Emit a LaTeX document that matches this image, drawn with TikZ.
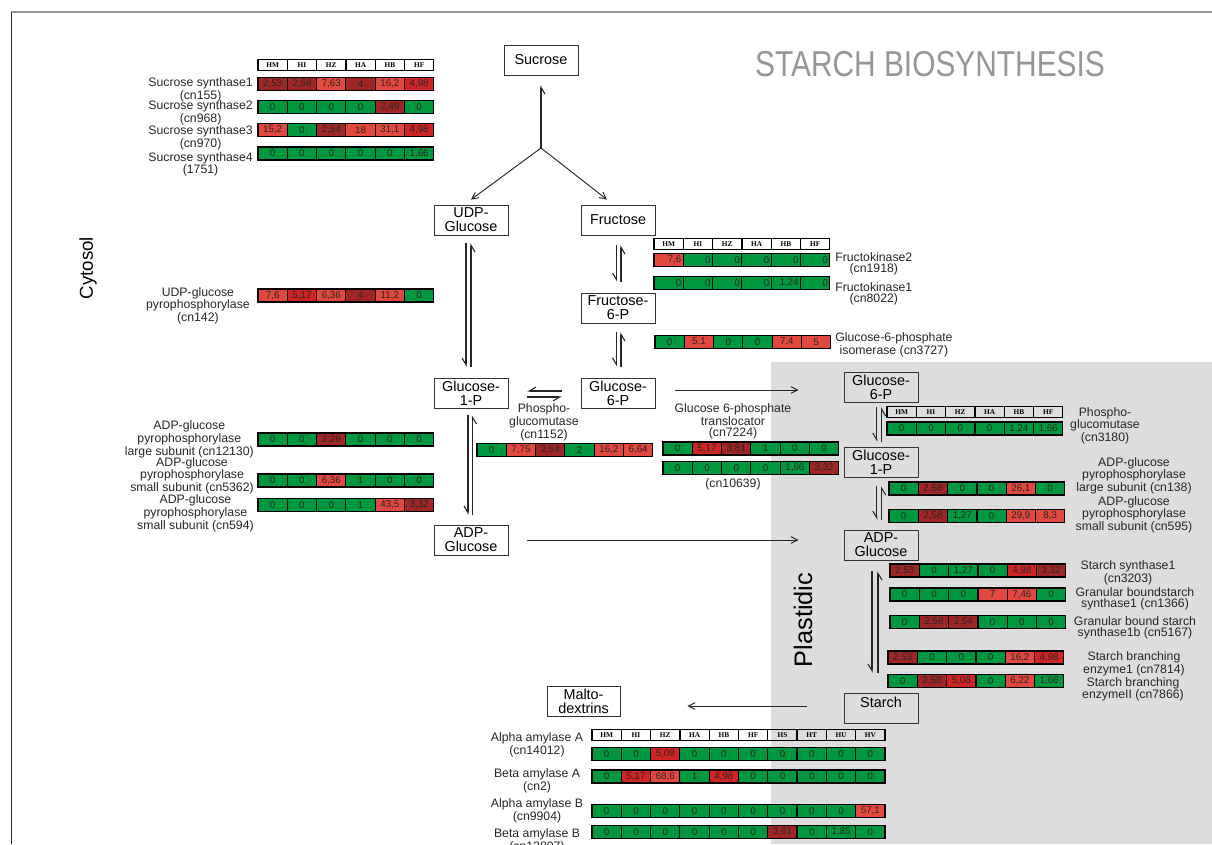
\documentclass[tikz,border=0pt]{standalone}
\usepackage{fontspec}
\setmainfont{Liberation Sans}
\newfontfamily\entetefont{Liberation Serif}
\usetikzlibrary{arrows.meta}

\definecolor{vv}{RGB}{0,152,62}
\definecolor{rc}{RGB}{226,72,62}
\definecolor{rm}{RGB}{208,36,36}
\definecolor{rf}{RGB}{160,38,38}
\definecolor{fond}{RGB}{221,221,221}
\definecolor{gristitre}{RGB}{150,150,150}

\tikzset{
	met/.style={draw=black!80, line width=0.6pt, minimum width=55.5pt, minimum height=22.5pt, inner sep=0pt, align=center, font=\fontsize{10.8}{10.5}\selectfont},
	cellule/.style={draw=black, line width=0.9pt, minimum width=22pt, minimum height=9.75pt, inner sep=0pt, text=black!85, font=\fontsize{7.3}{8}\selectfont},
	entete/.style={cellule, minimum height=8.25pt, text=black, font=\entetefont\bfseries\fontsize{5.5}{6}\selectfont},
	droite/.style={text width=19pt, align=right},
	enz/.style={align=center, inner sep=0pt, text=black!85, font=\fontsize{9.2}{8.2}\selectfont},
	fl/.style={draw=black!85, line width=0.7pt, -{Straight Barb[length=5pt,width=5pt]}},
	demi/.style={draw=black!85, line width=0.8pt, -{Straight Barb[right,length=5pt,width=6pt]}},
}

% une ligne de cellules : nom, x gauche, y centre, {couleur/valeur,...}
\newcommand{\ligne}[5][]{%
	\foreach \c/\v [count=\i] in {#5}
		\node[cellule,fill=\c,#1] (#2-\i) at ({#3+(\i-0.5)*29.3},#4) {\v};
}
% la ligne d'en-tete : nom, x gauche, y centre, {colonnes}
\newcommand{\entete}[4]{%
	\foreach \h [count=\i] in {#4}
		\node[entete] (#1-\i) at ({#2+(\i-0.5)*29.3},#3) {\h};
}
% deux demi-fleches paralleles (reaction reversible) entre deux noeuds
\newcommand{\paire}[6]{%
	\draw[demi, shorten <=#5, shorten >=#6] ([xshift=#3]#1.south) -- ([xshift=#3]#2.north);
	\draw[demi, shorten <=#6, shorten >=#5] ([xshift=#4]#2.north) -- ([xshift=#4]#1.south);
}

\begin{document}
\begin{tikzpicture}[x=0.75pt,y=-0.75pt]
	\useasboundingbox (0,0) rectangle (1212,844);
	% le plaste
	\fill[fond] (771,362) rectangle (1212,844);
	\draw[gristitre, line width=1pt] (11,12) -- (1212,12);
	\draw[black!85, line width=0.75pt] (11.5,11.5) -- (11.5,844);

	\node[text=gristitre, font=\fontsize{27}{27}\selectfont] (titre) at (930,64) {\scalebox{0.83}[1]{STARCH BIOSYNTHESIS}};
	\node[rotate=90, font=\fontsize{14}{14}\selectfont] (cytosol) at (88,268) {Cytosol};
	\node[rotate=90, font=\fontsize{19}{19}\selectfont] (plaste) at (803,620) {Plastidic};

	%metabolites
	\node[met] (sucrose) at (541,60) {Sucrose};
	\node[met] (udpglc) at (471,220) {UDP-\\Glucose};
	\node[met] (fructose) at (618,220) {Fructose};
	\node[met] (f6p) at (618,308) {Fructose-\\6-P};
	\node[met] (g1pc) at (471,393) {Glucose-\\1-P};
	\node[met] (g6pc) at (618,393) {Glucose-\\6-P};
	\node[met] (adpc) at (471,540) {ADP-\\Glucose};
	\node[met] (g6pp) at (881,387) {Glucose-\\6-P};
	\node[met] (g1pp) at (881,462) {Glucose-\\1-P};
	\node[met] (adpp) at (881,545) {ADP-\\Glucose};
	\node[met, text depth=9.2pt] (starch) at (881,708) {Starch};
	\node[met, minimum width=54.75pt] (malto) at (583.5,701) {Malto-\\dextrins};

	%fleches
	\coordinate (fourche) at (541,148);
	\draw[demi, shorten >=7.5pt] (fourche) -- (sucrose);
	\draw[fl] (fourche) -- ([yshift=3.75pt]udpglc.north);
	\draw[fl] (fourche) -- ([xshift=-8.25pt,yshift=3.75pt]fructose.north);
	\paire{udpglc}{g1pc}{-3.75pt}{0pt}{6pt}{8.25pt}
	\paire{fructose}{f6p}{-1.1pt}{2.25pt}{7.5pt}{8.25pt}
	\paire{f6p}{g6pc}{-1.1pt}{2.25pt}{6.75pt}{8.25pt}
	\paire{g1pc}{adpc}{-2.25pt}{1.1pt}{5.25pt}{7.5pt}
	\paire{g6pp}{g1pp}{-3.2pt}{0.5pt}{3.75pt}{3.75pt}
	\paire{g1pp}{adpp}{-3.2pt}{0.5pt}{6.75pt}{7.5pt}
	\paire{adpp}{starch}{-6.75pt}{-2.25pt}{8.25pt}{15pt}
	\draw[demi, shorten <=14.25pt, shorten >=14.25pt] ([yshift=1.5pt]g6pc.west) -- ([yshift=1.5pt]g6pc.west -| g1pc.east);
	\draw[demi, shorten <=14.25pt, shorten >=14.25pt] ([yshift=-3pt]g1pc.east) -- ([yshift=-3pt]g1pc.east -| g6pc.west);
	\draw[fl, shorten <=15pt, shorten >=33.75pt] ([yshift=2.25pt]g6pc.east) -- ([yshift=2.25pt]g6pc.east -| g6pp.west);
	\draw[fl, shorten <=14.25pt, shorten >=33.75pt] (adpc.east) -- (adpc.east -| adpp.west);
	\draw[fl, shorten <=27.75pt, shorten >=50.25pt] ([yshift=1.5pt]starch.west) -- ([yshift=1.5pt]starch.west -| malto.east);

	%tableaux
	\entete{hsuc}{258}{65}{HM,HI,HZ,HA,HB,HF}
	\ligne{ss1}{258}{84}{rf/{2,53},rf/{2,58},rc/{7,63},rf/4,rc/{16,2},rm/{4,98}}
	\ligne{ss2}{258}{107}{vv/0,vv/0,vv/0,vv/0,rf/{2,49},vv/0}
	\ligne{ss3}{258}{130}{rc/{15,2},vv/0,rf/{2,54},rc/18,rc/{31,1},rm/{4,98}}
	\ligne{ss4}{258}{153.5}{vv/0,vv/0,vv/0,vv/0,vv/0,vv/{1,66}}
	\ligne{ugp}{258}{295.5}{rc/{7,6},rm/{5,17},rc/{6,36},rf/4,rc/{11,2},vv/0}
	\ligne{agpl}{258}{439.5}{vv/0,vv/0,rf/{2,29},vv/0,vv/0,vv/0}
	\ligne{agps}{258}{480.5}{vv/0,vv/0,rc/{6,36},vv/1,vv/0,vv/0}
	\ligne{agpsb}{258}{505}{vv/0,vv/0,vv/0,vv/1,rc/{43,5},rf/{3,32}}
	\ligne{pgmc}{477}{450}{vv/0,rc/{7,75},rf/{2,54},vv/2,rc/{16,2},rc/{6,64}}
	\ligne{gpt}{663}{448.5}{vv/0,rm/{5,17},rf/{3,81},vv/1,vv/0,vv/0}
	\ligne{gptb}{663}{468}{vv/0,vv/0,vv/0,vv/0,vv/{1,66},rf/{3,32}}
	\entete{hfk}{654}{244}{HM,HI,HZ,HA,HB,HF}
	\ligne[droite]{fk2}{654}{260}{rc/{7,6},vv/0,vv/0,vv/0,vv/0,vv/0}
	\ligne[droite]{fk1}{654}{283}{vv/0,vv/0,vv/0,vv/0,vv/{1,24},vv/0}
	\ligne{pgi}{655}{342}{vv/0,rc/{5,1},vv/0,vv/0,rc/{7,4},rc/5}
	\entete{hpgm}{887}{412}{HM,HI,HZ,HA,HB,HF}
	\ligne{pgmp}{887}{428.5}{vv/0,vv/0,vv/0,vv/0,vv/{1,24},vv/{1,66}}
	\ligne{agplp}{889}{488.5}{vv/0,rf/{2,58},vv/0,vv/0,rc/{26,1},vv/0}
	\ligne{agpsp}{889}{516}{vv/0,rf/{2,58},vv/{1,27},vv/0,rc/{29,9},rc/{8,3}}
	\ligne{ss}{890}{570.5}{rf/{2,53},vv/0,vv/{1,27},vv/0,rm/{4,98},rf/{3,32}}
	\ligne{gbss}{890}{594.5}{vv/0,vv/0,vv/0,rc/7,rc/{7,46},vv/0}
	\ligne{gbssb}{890}{622}{vv/0,rf/{2,58},rf/{2,54},vv/0,vv/0,vv/0}
	\ligne{sbe}{888}{657.5}{rf/{2,53},vv/0,vv/0,vv/0,rc/{16,2},rm/{4,98}}
	\ligne{sbeb}{888}{681}{vv/0,rf/{2,58},rm/{5,08},vv/0,rc/{6,22},vv/{1,66}}
	\entete{hamy}{592}{735}{HM,HI,HZ,HA,HB,HF,HS,HT,HU,HV}
	\ligne{amya}{592}{754}{vv/0,vv/0,rm/{5,08},vv/0,vv/0,vv/0,vv/0,vv/0,vv/0,vv/0}
	\ligne{bama}{592}{776.5}{vv/0,rm/{5,17},rc/{68,6},vv/1,rm/{4,98},vv/0,vv/0,vv/0,vv/0,vv/0}
	\ligne{amyb}{592}{811}{vv/0,vv/0,vv/0,vv/0,vv/0,vv/0,vv/0,vv/0,vv/0,rc/{57,1}}
	\ligne{bamb}{592}{832}{vv/0,vv/0,vv/0,vv/0,vv/0,vv/0,rf/{3,61},vv/0,vv/{1,85},vv/0}

	%enzymes
	\node[enz, anchor=north east] (lss1) at (253,77.4) {Sucrose synthase1\\(cn155)};
	\node[enz, anchor=north east] (lss2) at (253,100.4) {Sucrose synthase2\\(cn968)};
	\node[enz, anchor=north east] (lss3) at (253,125.4) {Sucrose synthase3\\(cn970)};
	\node[enz, anchor=north east] (lss4) at (253,152) {Sucrose synthase4\\(1751)};
	\node[enz, anchor=north east] (lugp) at (250,287) {UDP-glucose\\pyrophosphorylase\\(cn142)};
	\node[enz, anchor=north east] (lagpl) at (254,420.4) {ADP-glucose\\pyrophosphorylase\\large subunit (cn12130)};
	\node[enz, anchor=north east] (lagps) at (254,457) {ADP-glucose\\pyrophosphorylase\\small subunit (cn5362)};
	\node[enz, anchor=north east] (lagpsb) at (254,494.7) {ADP-glucose\\pyrophosphorylase\\small subunit (cn594)};
	\node[enz, anchor=north] (lpgmc) at (544,403.7) {Phospho-\\glucomutase\\(cn1152)};
	\node[enz, anchor=north] (lgpt) at (733,403.7) {Glucose 6-phosphate\\translocator\\(cn7224)};
	\node[enz, anchor=north] (lgptb) at (733,478.7) {(cn10639)};
	\node[enz, anchor=north west] (lfk2) at (835,252.7) {Fructokinase2\\(cn1918)};
	\node[enz, anchor=north west] (lfk1) at (835,282) {Fructokinase1\\(cn8022)};
	\node[enz, anchor=north west] (lpgi) at (835,332.7) {Glucose-6-phosphate\\isomerase (cn3727)};
	\node[enz, anchor=north] (lpgmp) at (1105,407) {Phospho-\\glucomutase\\(cn3180)};
	\node[enz, anchor=north] (lagplp) at (1134,457) {ADP-glucose\\pyrophosphorylase\\large subunit (cn138)};
	\node[enz, anchor=north] (lagpsp) at (1134,496) {ADP-glucose\\pyrophosphorylase\\small subunit (cn595)};
	\node[enz, anchor=north] (lss) at (1128,560.4) {Starch synthase1\\(cn3203)};
	\node[enz, anchor=north] (lgbss) at (1135,587) {Granular boundstarch\\synthase1 (cn1366)};
	\node[enz, anchor=north] (lgbssb) at (1135,616.4) {Granular bound starch\\synthase1b (cn5167)};
	\node[enz, anchor=north] (lsbe) at (1134,651.4) {Starch branching\\enzyme1 (cn7814)};
	\node[enz, anchor=north] (lsbeb) at (1133,677) {Starch branching\\enzymeII (cn7866)};
	\node[enz, anchor=north] (lamya) at (537,732.4) {Alpha amylase A\\(cn14012)};
	\node[enz, anchor=north] (lbama) at (537,768.4) {Beta amylase A\\(cn2)};
	\node[enz, anchor=north] (lamyb) at (537,798.4) {Alpha amylase B\\(cn9904)};
	\node[enz, anchor=north] (lbamb) at (537,828.4) {Beta amylase B\\(cn12807)};
\end{tikzpicture}
\end{document}
